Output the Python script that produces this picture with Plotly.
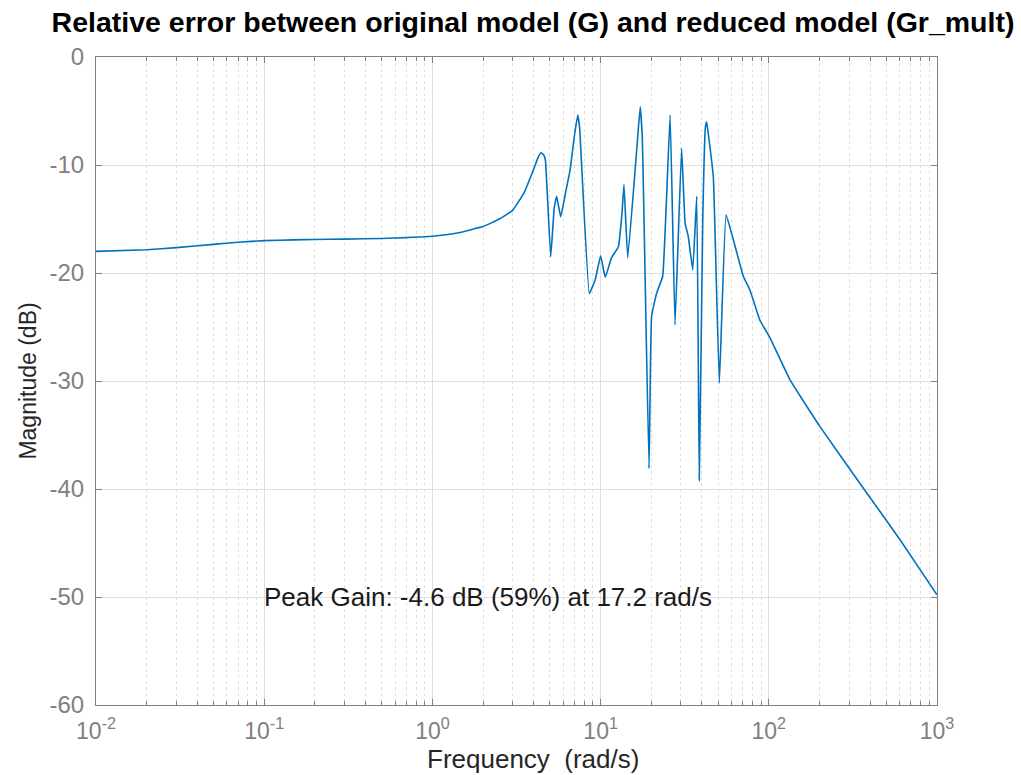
import numpy as np
import plotly.graph_objects as go

# Frequency (rad/s) and magnitude (dB)
freq = [0.01, 0.02, 0.03, 0.05, 0.07, 0.1, 0.15, 0.2, 0.3, 0.5,
        0.7, 1.0, 1.4, 2.0, 2.5, 3.0, 3.5, 4.0, 4.25, 4.42,
        4.6, 4.7, 5.05, 5.3, 5.48, 5.79, 6.2, 6.58, 7.0, 7.31,
        7.5, 8.57, 9.3, 10.0, 10.66, 11.6, 12.74, 13.4, 13.77, 14.5,
        16.6, 17.2, 17.7, 19.4, 20.1, 21.5, 23.4, 25.9, 27.7, 30.3,
        31.8, 33.2, 35.3, 37.3, 38.6, 40.5, 42.0, 42.7, 44.0, 46.8,
        50.8, 55.7, 61.5, 70.5, 77.3, 88.7, 101.7, 133.7, 201, 364,
        603, 1000]
mag = [-18.0, -17.85, -17.65, -17.35, -17.15, -17.0, -16.93, -16.9, -16.86, -16.8,
       -16.72, -16.6, -16.3, -15.7, -15.0, -14.2, -12.6, -10.4, -9.3, -8.86,
       -9.1, -9.6, -18.5, -14.0, -12.9, -14.8, -12.5, -10.5, -7.2, -5.37,
       -6.5, -21.9, -20.6, -18.4, -20.4, -18.6, -17.6, -14.5, -11.8, -18.6,
       -7.5, -4.6, -7.5, -38.1, -24.0, -21.9, -20.3, -5.37, -24.8, -8.45,
       -15.4, -16.6, -19.7, -12.9, -39.2, -15.0, -6.5, -6.0, -7.5, -11.1,
       -30.2, -14.6, -16.9, -20.3, -21.6, -24.4, -26.0, -29.9, -34.2, -39.9,
       -44.7, -49.8]

x_major = [0.01, 0.1, 1, 10, 100, 1000]
x_major_text = ["10<sup>-2</sup>", "10<sup>-1</sup>", "10<sup>0</sup>",
                "10<sup>1</sup>", "10<sup>2</sup>", "10<sup>3</sup>"]
x_minor = [m * 10.0 ** e for e in range(-2, 3) for m in range(2, 10)]
y_ticks = [0, -10, -20, -30, -40, -50, -60]
y_tick_text = ["0", "-10", "-20", "-30", "-40", "-50", "-60"]

title_text = "Relative error between original model (G) and reduced model (Gr_mult)"
peak_text = "Peak Gain: -4.6 dB (59%) at 17.2 rad/s"
x_title = "Frequency&nbsp;&nbsp;(rad/s)"
y_title = "Magnitude (dB)"

FONT = "Liberation Sans, Arial, sans-serif"
GRID = "#dedede"
AXIS = "#808080"

fig = go.Figure()
fig.add_trace(go.Scatter(x=freq, y=mag, mode="lines",
                         line=dict(color="#0072BD", width=1.6, shape="spline", smoothing=0.3),
                         showlegend=False, hoverinfo="x+y"))

fig.add_annotation(x=np.log10(0.097), y=-50, xref="x", yref="y",
                   text=peak_text, showarrow=False, xanchor="left",
                   yanchor="middle", font=dict(family=FONT, size=26, color="#1a1a1a"))

# x-axis title placed as an annotation (centred like the reference)
fig.add_annotation(x=(533 - 96) / 841, y=(705 - 759) / 648, xref="paper", yref="paper",
                   text=x_title, showarrow=False, xanchor="center", yanchor="middle",
                   font=dict(family=FONT, size=26, color="#262626"))

fig.update_layout(
    width=1021, height=775,
    margin=dict(l=96, r=84, t=57, b=70, autoexpand=False),
    paper_bgcolor="white", plot_bgcolor="white",
    title=dict(text="<b>" + title_text + "</b>", x=533 / 1021, xref="container",
               xanchor="center", y=1 - 22 / 775, yref="container", yanchor="middle",
               automargin=False,
               font=dict(family=FONT, size=28.5, color="#000000")),
)

fig.update_xaxes(
    type="log", range=[-2, 3], automargin=False,
    tickmode="array", tickvals=x_major, ticktext=x_major_text,
    tickfont=dict(family=FONT, size=23, color=AXIS),
    ticks="inside", ticklen=6, tickcolor=AXIS, ticklabelstandoff=5,
    showline=True, linecolor=AXIS, linewidth=1.2, mirror="ticks",
    showgrid=True, gridcolor=GRID, gridwidth=1,
    minor=dict(tickmode="array", tickvals=x_minor, ticks="inside", ticklen=4,
               tickcolor=AXIS, showgrid=True, gridcolor=GRID,
               griddash="dot", gridwidth=1),
    zeroline=False,
)

fig.update_yaxes(
    range=[-60, 0], tickmode="array", tickvals=y_ticks, ticktext=y_tick_text,
    automargin=False,
    tickfont=dict(family=FONT, size=24, color=AXIS),
    ticks="inside", ticklen=6, tickcolor=AXIS, ticklabelstandoff=6,
    showline=True, linecolor=AXIS, linewidth=1.2, mirror="ticks",
    showgrid=True, gridcolor=GRID, gridwidth=1, zeroline=False,
    title=dict(text=y_title, standoff=6,
               font=dict(family=FONT, size=23, color="#262626")),
)

fig.write_html("out.html", config={"displayModeBar": False},
               post_script="document.body.style.margin='0';")
